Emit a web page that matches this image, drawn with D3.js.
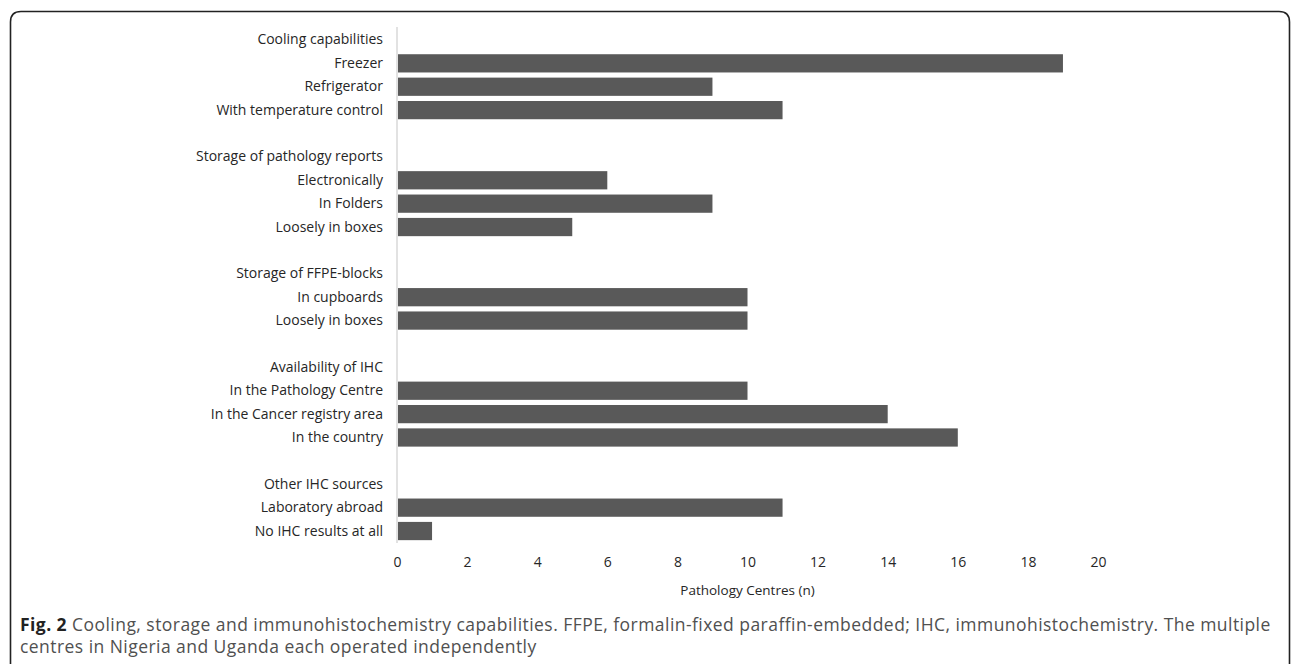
<!DOCTYPE html>
<html><head><meta charset="utf-8">
<script src="https://cdn.jsdelivr.net/npm/d3@7"></script>
<style>body{margin:0;background:#fff;}svg{display:block;}</style>
</head><body>
<svg id="chart" width="1292" height="664"></svg>
<script>
const categories = ["Cooling capabilities","Freezer","Refrigerator","With temperature control","",
  "Storage of pathology reports","Electronically","In Folders","Loosely in boxes","",
  "Storage of FFPE-blocks","In cupboards","Loosely in boxes","",
  "Availability of IHC","In the Pathology Centre","In the Cancer registry area","In the country","",
  "Other IHC sources","Laboratory abroad","No IHC results at all"];
const values = [null,19,9,11,null, null,6,9,5,null, null,10,10,null, null,10,14,16,null, null,11,1];
const xTicks = [0,2,4,6,8,10,12,14,16,18,20];
const xTitle = "Pathology Centres (n)";
const captionBold = "Fig. 2";
const captionLine1 = " Cooling, storage and immunohistochemistry capabilities. FFPE, formalin-fixed paraffin-embedded; IHC, immunohistochemistry. The multiple";
const captionLine2 = "centres in Nigeria and Uganda each operated independently";

const svg = d3.select("#chart");
svg.append("path")
  .attr("d","M10.5,664 L10.5,22 Q10.5,11.5 21,11.5 L1279,11.5 Q1289.5,11.5 1289.5,22 L1289.5,664")
  .attr("fill","none").attr("stroke","#222").attr("stroke-width",1.6);

const idx = categories.map((d,i)=>i);
const y = d3.scaleBand().domain(idx).range([25.7,545.3]).padding(0.22);
const x = d3.scaleLinear().domain([0,20]).range([397,1098]);

const font = "'Open Sans', sans-serif";
svg.append("line").attr("x1",x(0)).attr("x2",x(0)).attr("y1",27).attr("y2",543)
  .attr("stroke","#d9d9d9").attr("stroke-width",1.5);

svg.append("g").selectAll("rect").data(idx.filter(i=>values[i]!=null)).join("rect")
  .attr("x",x(0)+1).attr("y",i=>y(i)).attr("height",y.bandwidth())
  .attr("width",i=>x(values[i])-x(0)-1).attr("fill","#595959");

const yAxis = d3.axisLeft(y).tickSize(0).tickPadding(14).tickFormat(i=>categories[i]);
const gy = svg.append("g").attr("transform",`translate(${x(0)},0)`).call(yAxis);
gy.select(".domain").remove();
gy.selectAll("text").attr("font-family",font).attr("font-size",14).attr("fill","#262626");

const xAxis = d3.axisBottom(x).tickValues(xTicks).tickSize(0).tickPadding(0);
const gx = svg.append("g").attr("transform","translate(0,557)").call(xAxis);
gx.select(".domain").remove();
gx.selectAll("text").attr("font-family",font).attr("font-size",14).attr("fill","#262626");

svg.append("text").attr("x",(x(0)+x(20))/2).attr("y",595).attr("text-anchor","middle")
  .attr("font-family",font).attr("font-size",13.5).attr("fill","#262626").text(xTitle);

const cap = svg.append("text").attr("x",20).attr("y",631).attr("font-family",font).attr("font-size",17.5)
  .attr("letter-spacing",0.45).attr("fill","#505050");
cap.append("tspan").attr("font-weight","bold").attr("fill","#222").text(captionBold);
cap.append("tspan").text(captionLine1);
svg.append("text").attr("x",20).attr("y",653).attr("font-family",font).attr("font-size",17.5)
  .attr("letter-spacing",0.45).attr("fill","#505050").text(captionLine2);
</script>
</body></html>
